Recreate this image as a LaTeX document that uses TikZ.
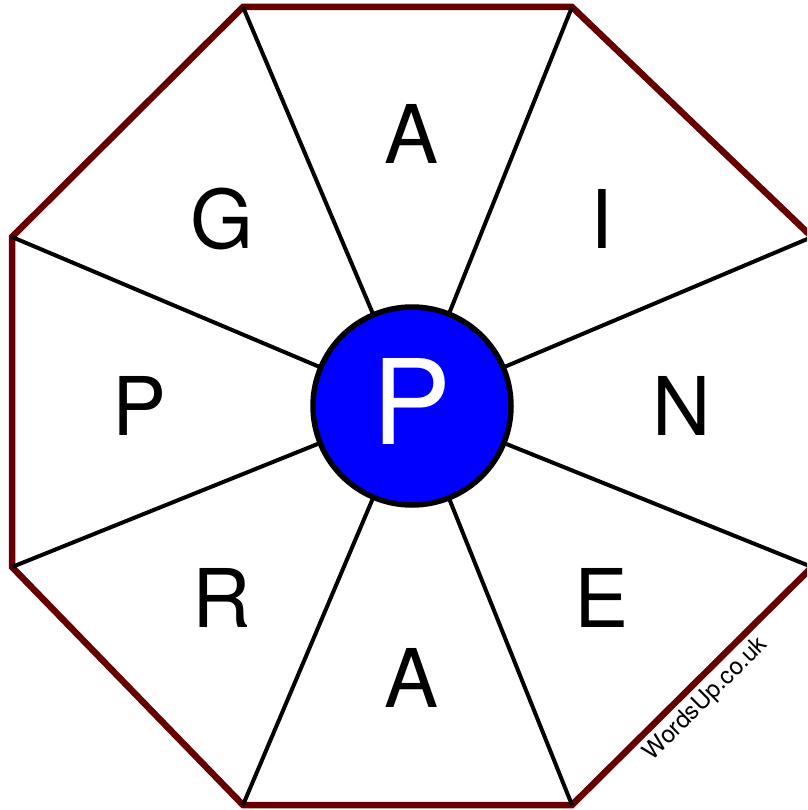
\documentclass[tikz,border=0pt]{standalone}
\usepackage{fontspec}
\setmainfont{TeX Gyre Heros}
\definecolor{octred}{RGB}{102,0,0}
\definecolor{hubblue}{RGB}{0,0,255}
\tikzset{
  spoke/.style={line width=4pt, black},
  octagon/.style={line width=6.5pt, octred, line join=miter},
  hub/.style={circle, draw=black, line width=5.5pt, fill=hubblue, minimum size=198pt, inner sep=0pt},
  letter/.style={inner sep=0pt, font=\fontsize{81}{81}\selectfont}
}
\begin{document}
\begin{tikzpicture}[x=1pt,y=-1pt]
\useasboundingbox (0,0) rectangle (807,810);
\clip (0,0) rectangle (807,810);
\coordinate (v1) at (243,7);
\coordinate (v2) at (572,7);
\coordinate (v3) at (812,237);
\coordinate (v4) at (812,567);
\coordinate (v5) at (572,805);
\coordinate (v6) at (243,805);
\coordinate (v7) at (12,567);
\coordinate (v8) at (12,237);
\draw[octagon] (v1) -- (v2) -- (v3) -- (v4) -- (v5) -- (v6) -- (v7) -- (v8) -- cycle;
\coordinate (ctr) at (412,406);
\foreach \v in {v1,v2,v3,v4,v5,v6,v7,v8} \draw[spoke] (ctr) -- (\v);
\node[hub] (c) at (412,406) {};
\node[text=white, inner sep=0pt, font=\fontsize{118}{118}\selectfont] (cp) at (412,401) {P};
\node[letter] (lA1) at (412,134) {A};
\node[letter] (lI) at (602,219) {I};
\node[letter] (lN) at (682,406) {N};
\node[letter] (lE) at (602,598) {E};
\node[letter] (lA2) at (412,678) {A};
\node[letter] (lR) at (222,598) {R};
\node[letter] (lP) at (140,406) {P};
\node[letter] (lG) at (222,219) {G};
\node[inner sep=0pt, rotate=45, font=\fontsize{24}{24}\selectfont] (wm) at (706,699) {WordsUp.co.uk};
\end{tikzpicture}
\end{document}
